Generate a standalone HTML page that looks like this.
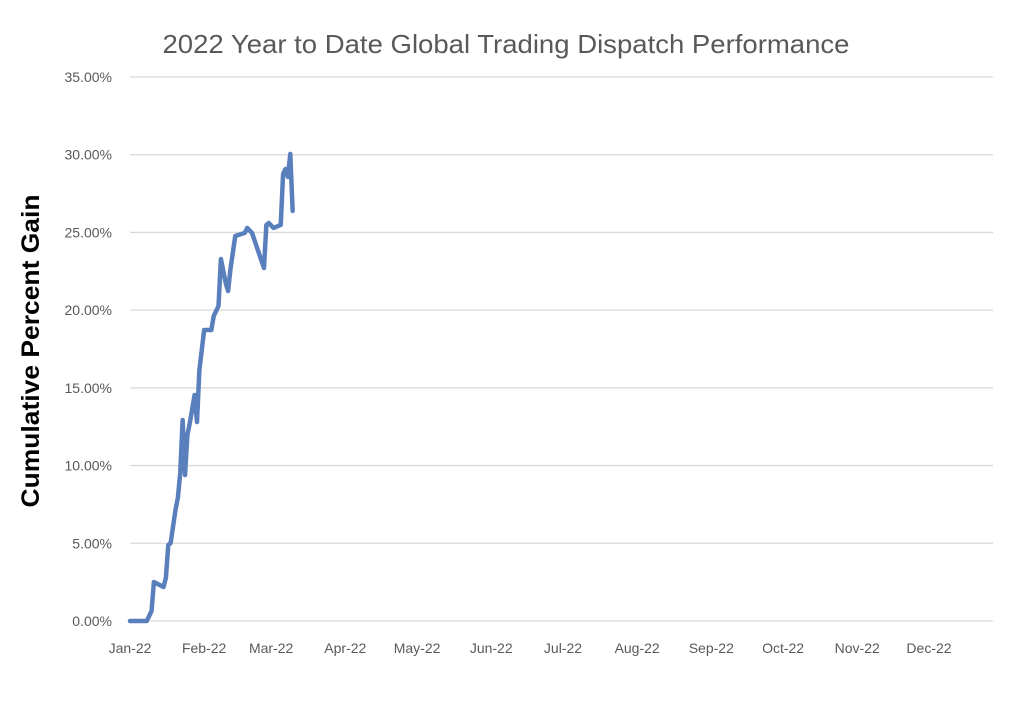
<!DOCTYPE html>
<html><head><meta charset="utf-8"><style>
body{margin:0;background:#fff;}
svg{display:block;font-family:"Liberation Sans",Arial,sans-serif;}
</style></head><body>
<svg id="chart" width="1030" height="707">
<text x="506" y="53" text-anchor="middle" font-size="26" fill="#595959" textLength="687" lengthAdjust="spacingAndGlyphs">2022 Year to Date Global Trading Dispatch Performance</text>
<text transform="translate(39,351) rotate(-90)" text-anchor="middle" font-size="25" font-weight="bold" fill="#000" textLength="313" lengthAdjust="spacingAndGlyphs">Cumulative Percent Gain</text>
<g id="grid"></g><g id="ylabels"></g><g id="xlabels"></g><g id="series"></g>
</svg>
<script>
const yTicks=[0,5,10,15,20,25,30,35];
const monthLabels=["Jan-22","Feb-22","Mar-22","Apr-22","May-22","Jun-22","Jul-22","Aug-22","Sep-22","Oct-22","Nov-22","Dec-22"];
const monthStartDays=[0,31,59,90,120,151,181,212,243,273,304,334];
const days=[0,7,9,10,14,15,16,17,19,20,21,22,23,24,25,27,28,29,31,34,35,37,38,40,41,42,44,48,49,51,56,57,58,60,63,64,65,66,67,68];
const gains=[0,0,0.64,2.51,2.19,2.77,4.89,5.02,7.14,7.91,9.52,12.93,9.39,11.97,12.74,14.54,12.8,16.15,18.72,18.72,19.62,20.27,23.29,21.75,21.23,22.65,24.77,24.97,25.29,24.97,22.71,25.48,25.61,25.29,25.48,28.76,29.08,28.57,30.05,26.38];
const NS="http://www.w3.org/2000/svg";
const x=d=>130+d*(799/334);
const y=v=>621-v*(544/35);
const grid=document.getElementById('grid'),yl=document.getElementById('ylabels'),xl=document.getElementById('xlabels'),ser=document.getElementById('series');
yTicks.forEach(t=>{
 const l=document.createElementNS(NS,'line');
 l.setAttribute('x1',130);l.setAttribute('x2',993);l.setAttribute('y1',y(t));l.setAttribute('y2',y(t));
 l.setAttribute('stroke','#d9d9d9');l.setAttribute('stroke-width','1.3');
 
 
 grid.appendChild(l);
 const tx=document.createElementNS(NS,'text');
 tx.setAttribute('x',112);tx.setAttribute('y',y(t)+5);tx.setAttribute('text-anchor','end');
 tx.setAttribute('font-size','14');tx.setAttribute('fill','#595959');
 tx.textContent=t.toFixed(2)+'%';
 
 
 yl.appendChild(tx);
});
monthLabels.forEach((m,i)=>{
 const tx=document.createElementNS(NS,'text');
 tx.setAttribute('x',x(monthStartDays[i]));tx.setAttribute('y',653);tx.setAttribute('text-anchor','middle');
 tx.setAttribute('font-size','14');tx.setAttribute('fill','#595959');
 tx.textContent=m;
 
 
 xl.appendChild(tx);
});
const p=document.createElementNS(NS,'polyline');
p.setAttribute('points',days.map((d,i)=>x(d)+','+y(gains[i])).join(' '));
p.setAttribute('fill','none');p.setAttribute('stroke','#5a7fbd');p.setAttribute('stroke-width','4.5');
p.setAttribute('stroke-linejoin','round');p.setAttribute('stroke-linecap','round');


ser.appendChild(p);
</script>
</body></html>
